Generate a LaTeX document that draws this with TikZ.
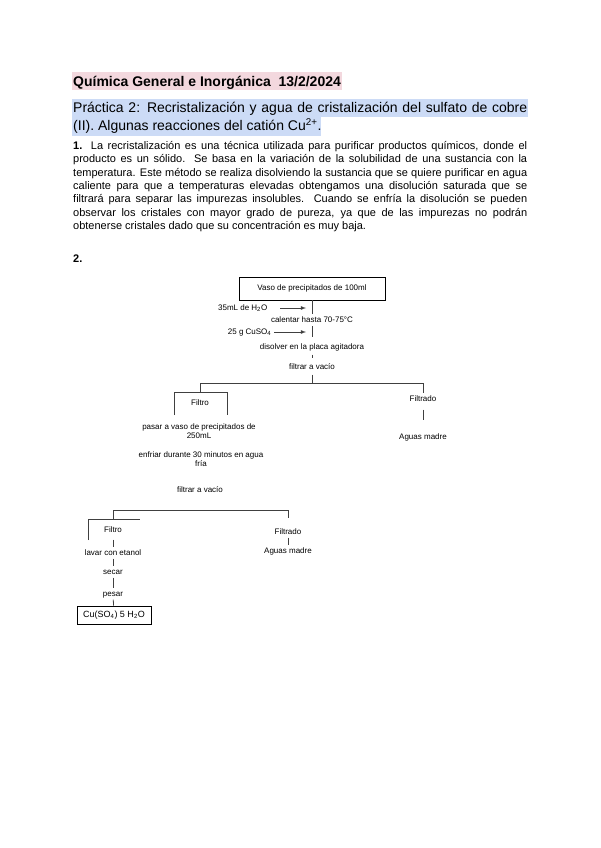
\documentclass[tikz,border=0pt]{standalone}
\usepackage{fontspec}
\setmainfont{Liberation Sans}
\definecolor{rosa}{HTML}{F3D8DE}
\definecolor{azul}{HTML}{CCDBF6}

\begin{document}
\begin{tikzpicture}[x=1pt,y=-1pt,
    texto/.style={font=\fontsize{8}{9}\selectfont, inner sep=1.5pt, text height=6pt, text depth=2pt},
    linea/.style={draw=black!75, line width=0.8pt},
    tramo/.style={linea, shorten <=2pt, shorten >=2pt},
    flecha/.style={linea, -latex},
    caja/.style={draw, line width=0.9pt, inner sep=0pt, font=\fontsize{8}{9}\selectfont}]
\useasboundingbox (0,0) rectangle (600,848);
% encabezado
\fill[rosa] (72,72.5) rectangle (342,90);
\fill[azul] (72,99.5) rectangle (528,117.5);
\fill[azul] (72,117.5) rectangle (321,135.5);
\node[anchor=base west, inner sep=0pt, font=\fontsize{14}{16}\selectfont\bfseries] (titulo) at (73,86.5) {Química General e Inorgánica\ \ 13/2/2024};
\node[anchor=base west, inner sep=0pt, font=\fontsize{14}{16}\selectfont] (practica) at (73,112.5) {\makebox[454pt][s]{Práctica 2: Recristalización y agua de cristalización del sulfato de cobre}};
\node[anchor=base west, inner sep=0pt, font=\fontsize{14}{16}\selectfont] (practicab) at (73,130.5) {(II). Algunas reacciones del catión Cu\textsuperscript{2+}.};
% parrafo 1
\foreach \txt [count=\i] in {%
    {\textbf{1.} La recristalización es una técnica utilizada para purificar productos químicos, donde el},
    {producto es un sólido. Se basa en la variación de la solubilidad de una sustancia con la},
    {temperatura. Este método se realiza disolviendo la sustancia que se quiere purificar en agua},
    {caliente para que a temperaturas elevadas obtengamos una disolución saturada que se},
    {filtrará para separar las impurezas insolubles. Cuando se enfría la disolución se pueden},
    {observar los cristales con mayor grado de pureza, ya que de las impurezas no podrán}}
  \node[anchor=base west, inner sep=0pt, font=\fontsize{11}{13}\selectfont] (renglon\i) at (73,{149.5+13.35*(\i-1)}) {\makebox[454pt][s]{\txt}};
\node[anchor=base west, inner sep=0pt, font=\fontsize{11}{13}\selectfont] (renglon7) at (73,229.6) {obtenerse cristales dado que su concentración es muy baja.};
\node[anchor=base west, inner sep=0pt, font=\fontsize{11}{13}\selectfont\bfseries] (punto2) at (73,262) {2.};

% esquema: primera parte
\node[caja, minimum width=146pt, minimum height=23pt] (vaso) at (312,288.5) {Vaso de precipitados de 100ml};
\node[texto, anchor=east] (h2o) at (269,308) {35mL de H\textsubscript{2}O};
\node[texto] (calentar) at (312,320) {calentar hasta 70-75°C};
\node[texto, anchor=east] (cuso) at (273,332) {25 g CuSO\textsubscript{4}};
\node[texto] (disolver) at (312,347) {disolver en la placa agitadora};
\node[texto] (filtrar1) at (312,367) {filtrar a vacío};
\coordinate (agua) at (306,308);
\coordinate (sal) at (306,332);
\coordinate (rama1) at (312,383);
\coordinate (rama1izq) at (200,383);
\coordinate (rama1der) at (423,383);
\coordinate (pinza1) at (200,392);
\draw[linea] (vaso) -- (calentar);
\draw[tramo, shorten <=0.5pt, shorten >=4.5pt] (calentar) -- (disolver);
\draw[tramo, shorten >=3pt] (disolver) -- (filtrar1);
\draw[tramo, shorten >=0pt] (filtrar1) -- (rama1);
\draw[flecha, shorten <=11pt] (h2o.east) -- (agua);
\draw[flecha, shorten <=1pt] (cuso.east) -- (sal);
\draw[linea] (rama1izq) -- (rama1der);
\draw[linea] (rama1izq) -- (pinza1);
\draw[linea] (174,415) -- (174,392) -- (227,392) -- (227,415);
\node[texto] (filtro1) at (200,403) {Filtro};
\node[texto] (filtrado1) at (423,399) {Filtrado};
\node[texto] (aguas1) at (423,437) {Aguas madre};
\draw[linea] (rama1der) -- (filtrado1);
\draw[tramo, shorten <=5pt, shorten >=11pt] (filtrado1) -- (aguas1);
\node[texto, align=center] (pasar) at (199,436.5) {pasar a vaso de precipitados de\\250mL};
\node[texto, align=center] (enfriar) at (201,464.5) {enfriar durante 30 minutos en agua\\fría};
\node[texto] (filtrar2) at (200,490) {filtrar a vacío};

% esquema: segunda parte
\coordinate (rama2izq) at (113,510);
\coordinate (rama2der) at (288,510);
\coordinate (pinza2) at (113,519);
\draw[linea] (rama2izq) -- (rama2der);
\draw[linea] (rama2izq) -- (pinza2);
\draw[linea] (88,540) -- (88,519) -- (140,519);
\node[texto] (filtro2) at (113,530) {Filtro};
\node[texto] (filtrado2) at (288,532) {Filtrado};
\node[texto] (aguas2) at (288,551) {Aguas madre};
\draw[linea, shorten >=8pt] (rama2der) -- (filtrado2);
\draw[tramo, shorten <=0pt, shorten >=0pt] (filtrado2) -- (aguas2);
\node[texto] (lavar) at (113,553) {lavar con etanol};
\node[texto] (secar) at (113,572) {secar};
\node[texto] (pesar) at (113,594) {pesar};
\node[caja, minimum width=74pt, minimum height=18pt, font=\fontsize{9}{10}\selectfont] (sulfato) at (114,615) {Cu(SO\textsubscript{4}) 5 H\textsubscript{2}O};
\draw[tramo, shorten <=4pt, shorten >=0pt] (filtro2) -- (lavar);
\draw[tramo, shorten <=0pt, shorten >=0pt] (lavar) -- (secar);
\draw[tramo, shorten <=0pt, shorten >=0pt] (secar) -- (pesar);
\draw[linea, shorten <=0pt] (pesar) -- (sulfato);
\end{tikzpicture}
\end{document}
